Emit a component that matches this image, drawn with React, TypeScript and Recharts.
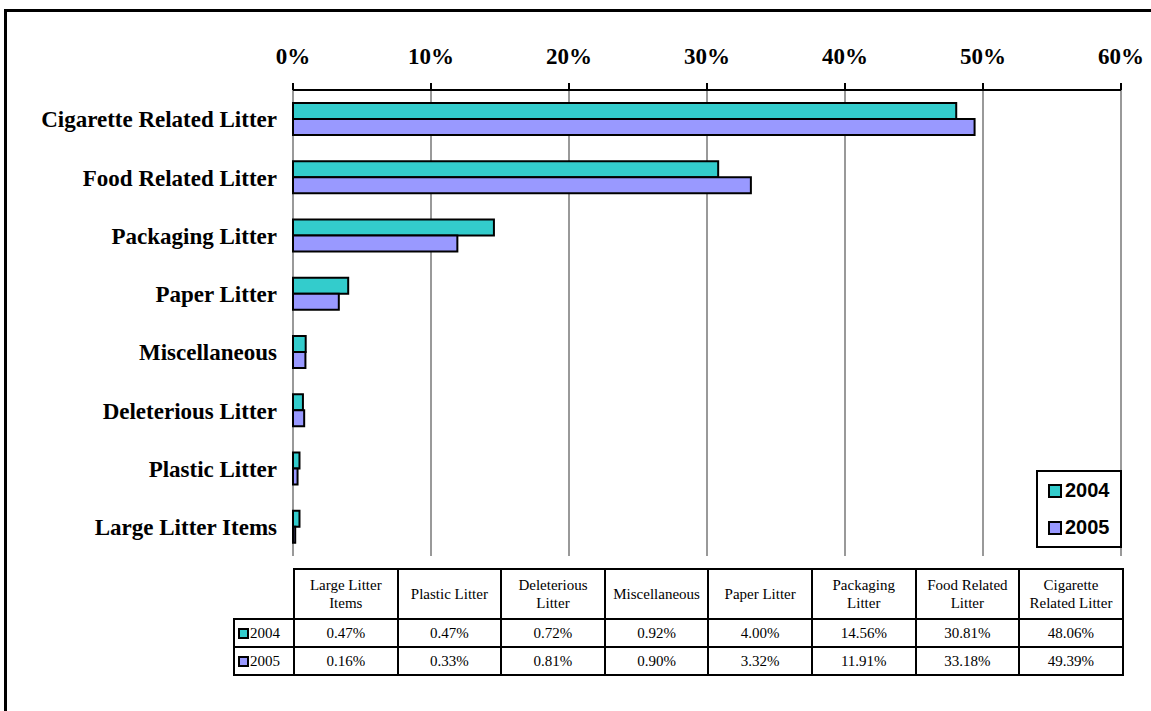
import React from 'react';
import { BarChart, Bar, XAxis, YAxis, CartesianGrid, Legend } from 'recharts';

const categories = [
  'Large Litter Items',
  'Plastic Litter',
  'Deleterious Litter',
  'Miscellaneous',
  'Paper Litter',
  'Packaging Litter',
  'Food Related Litter',
  'Cigarette Related Litter',
];
const tableHeaders = [
  ['Large Litter', 'Items'],
  ['Plastic Litter'],
  ['Deleterious', 'Litter'],
  ['Miscellaneous'],
  ['Paper Litter'],
  ['Packaging', 'Litter'],
  ['Food Related', 'Litter'],
  ['Cigarette', 'Related Litter'],
];
const values2004 = [0.47, 0.47, 0.72, 0.92, 4.0, 14.56, 30.81, 48.06];
const values2005 = [0.16, 0.33, 0.81, 0.9, 3.32, 11.91, 33.18, 49.39];
const seriesNames = ['2004', '2005'];
const seriesColors = ['#33CCCC', '#9999FF'];
const xTicks = [0, 10, 20, 30, 40, 50, 60];

const data = categories.map((name, i) => ({
  name,
  v2004: values2004[i],
  v2005: values2005[i],
}));
const boundaryTicks = [...categories.map((_, i) => i), categories.length];

const SERIF = '"Liberation Serif", "Times New Roman", serif';
const SANS = '"Liberation Sans", Arial, sans-serif';

const LegendBox = () => (
  <div
    style={{
      border: '2px solid #000',
      background: '#fff',
      width: 82,
      height: 74,
      boxSizing: 'content-box',
      fontFamily: SANS,
      fontWeight: 'bold',
      fontSize: 20,
      color: '#000',
    }}
  >
    {seriesNames.map((s, i) => (
      <div key={s} style={{ display: 'flex', alignItems: 'center', height: 37, paddingLeft: 10 }}>
        <span
          style={{
            display: 'inline-block',
            width: 10,
            height: 10,
            background: seriesColors[i],
            border: '2px solid #000',
            marginRight: 3,
          }}
        />
        <span>{s}</span>
      </div>
    ))}
  </div>
);

const cellBorder = '2px solid #000';

export default function App() {
  return (
    <div style={{ position: 'absolute', left: 0, top: 0, width: 1151, height: 711, background: '#fff', overflow: 'hidden' }}>
      <div
        style={{
          position: 'absolute',
          left: 4,
          top: 9,
          width: 1200,
          height: 760,
          borderLeft: '3px solid #000',
          borderTop: '3px solid #000',
        }}
      />
      <div style={{ position: 'absolute', left: 0, top: 0 }}>
        <BarChart
          width={1151}
          height={711}
          data={data}
          layout="vertical"
          margin={{ top: 10, right: 30, bottom: 155, left: 5 }}
          barGap={0}
          barSize={16}
        >
          <CartesianGrid xAxisId="top" yAxisId="cat" horizontal={false} stroke="#999" strokeWidth={2} />
          <XAxis
            xAxisId="top"
            type="number"
            orientation="top"
            domain={[0, 60]}
            ticks={xTicks}
            tickFormatter={(v) => `${v}%`}
            height={80}
            axisLine={{ stroke: '#000', strokeWidth: 2 }}
            tickLine={{ stroke: '#000', strokeWidth: 2 }}
            tickSize={7}
            tickMargin={19}
            tick={{ fontFamily: SERIF, fontWeight: 'bold', fontSize: 23, fill: '#000' }}
          />
          <XAxis
            xAxisId="bottom"
            type="number"
            orientation="bottom"
            domain={[0, 60]}
            ticks={xTicks}
            height={0}
            tick={false}
            tickLine={false}
            axisLine={{ stroke: '#999', strokeWidth: 2 }}
          />
          <YAxis
            yAxisId="grid"
            type="number"
            domain={[0, categories.length]}
            ticks={boundaryTicks}
            width={0}
            tick={false}
            tickSize={7}
            axisLine={{ stroke: '#000', strokeWidth: 2 }}
            tickLine={{ stroke: '#000', strokeWidth: 2 }}
          />
          <YAxis
            yAxisId="cat"
            type="category"
            dataKey="name"
            reversed
            width={288}
            axisLine={false}
            tickLine={false}
            tickSize={6}
            tickMargin={10}
            interval={0}
            tick={{ fontFamily: SERIF, fontWeight: 'bold', fontSize: 23, fill: '#000' }}
          />
          <Legend
            layout="vertical"
            align="center"
            verticalAlign="middle"
            content={() => <LegendBox />}
            wrapperStyle={{ left: 1036, top: 470, width: 86, height: 78 }}
          />
          <Bar
            xAxisId="top"
            yAxisId="cat"
            dataKey="v2004"
            name={seriesNames[0]}
            fill={seriesColors[0]}
            stroke="#000"
            strokeWidth={2}
            isAnimationActive={false}
          />
          <Bar
            xAxisId="top"
            yAxisId="cat"
            dataKey="v2005"
            name={seriesNames[1]}
            fill={seriesColors[1]}
            stroke="#000"
            strokeWidth={2}
            isAnimationActive={false}
          />
        </BarChart>
      </div>
      <table
        style={{
          position: 'absolute',
          left: 233,
          top: 568,
          borderCollapse: 'collapse',
          tableLayout: 'fixed',
          width: 889,
          fontFamily: SERIF,
          fontSize: 15,
          color: '#000',
        }}
      >
        <colgroup>
          <col style={{ width: 60 }} />
          {categories.map((c) => (
            <col key={c} style={{ width: 103.6 }} />
          ))}
        </colgroup>
        <tbody>
          <tr style={{ height: 50 }}>
            <td style={{ border: 'none' }} />
            {tableHeaders.map((h, i) => (
              <td key={i} style={{ border: cellBorder, textAlign: 'center', lineHeight: '18px', padding: 0 }}>
                {h.map((line, j) => (
                  <div key={j}>{line}</div>
                ))}
              </td>
            ))}
          </tr>
          {[values2004, values2005].map((vals, r) => (
            <tr key={r} style={{ height: 28 }}>
              <td style={{ border: cellBorder, padding: '0 0 0 3px', whiteSpace: 'nowrap', lineHeight: '18px' }}>
                <span
                  style={{
                    display: 'inline-block',
                    width: 7,
                    height: 7,
                    background: seriesColors[r],
                    border: '2px solid #000',
                    marginRight: 1,
                    verticalAlign: 'middle',
                    position: 'relative',
                    top: -1,
                  }}
                />
                {seriesNames[r]}
              </td>
              {vals.map((v, i) => (
                <td key={i} style={{ border: cellBorder, textAlign: 'center', padding: 0, lineHeight: '18px' }}>
                  {v.toFixed(2)}%
                </td>
              ))}
            </tr>
          ))}
        </tbody>
      </table>
    </div>
  );
}
